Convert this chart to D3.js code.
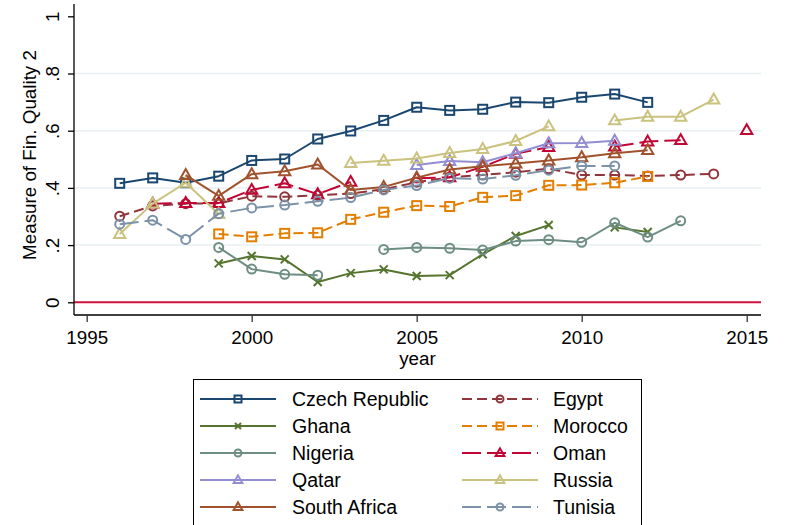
<!DOCTYPE html>
<html>
<head>
<meta charset="utf-8">
<script src="https://cdn.jsdelivr.net/npm/d3@7"></script>
<style>
  html, body { margin: 0; padding: 0; background: #fff; }
  svg { display: block; font-family: "Liberation Sans", Arial, sans-serif; }
</style>
</head>
<body>
<svg id="chart" width="787" height="525"></svg>
<script>
// ---------- data ----------
const years = [1996,1997,1998,1999,2000,2001,2002,2003,2004,2005,2006,2007,2008,2009,2010,2011,2012,2013,2014,2015];
const czech   = [.416,.435,.418,.441,.496,.501,.571,.599,.636,.682,.671,.675,.700,.698,.717,.728,.699,null,null,null];
const egypt   = [.301,.337,.345,.346,.371,.369,.374,.380,.395,.420,.437,.445,.455,.467,.445,.445,.442,.445,.449,null];
const ghana   = [null,null,null,.136,.162,.150,.071,.102,.115,.092,.095,.168,.232,.270,null,.262,.246,null,null,null];
const morocco = [null,null,null,.239,.229,.241,.243,.290,.315,.338,.335,.367,.373,.409,.410,.418,.440,null,null,null];
const nigeria = [null,null,null,.192,.116,.098,.095,null,.185,.192,.189,.183,.214,.219,.210,.278,.228,.285,null,null];
const oman    = [null,.345,.347,.347,.393,.416,.378,.421,null,.434,.437,.474,.519,.543,null,.545,.562,.567,null,.602];
const qatar   = [null,null,null,null,null,null,null,null,null,.480,.494,.490,.521,.556,.557,.565,null,null,null,null];
const russia  = [.239,.345,.418,.309,null,null,null,.487,.495,.503,.522,.536,.564,.615,null,.636,.649,.649,.709,null];
const safrica = [null,null,.445,.372,.448,.458,.482,.393,.403,.436,.464,.476,.485,.496,.507,.521,.532,null,null,null];
const tunisia = [.273,.287,.220,.310,.330,.340,.353,.366,.393,.408,.434,.431,.444,.462,.477,.477,null,null,null,null];

const seriesNames = ["Czech Republic","Egypt","Ghana","Morocco","Nigeria","Oman","Qatar","Russia","South Africa","Tunisia"];
const seriesValues = [czech, egypt, ghana, morocco, nigeria, oman, qatar, russia, safrica, tunisia];
const xTicks = [1995,2000,2005,2010,2015];
const yTicks = [0,.2,.4,.6,.8,1];
const yTickLabels = ["0",".2",".4",".6",".8","1"];
const xTitle = "year";
const yTitle = "Measure of Fin. Quality 2";

// ---------- styles ----------
const styles = [
  {color:"#1a476f", marker:"square",   dash:null},
  {color:"#90353b", marker:"circle",   dash:"10,5"},
  {color:"#55752f", marker:"x",        dash:null},
  {color:"#e37e00", marker:"square",   dash:"10,5"},
  {color:"#6e8e84", marker:"circle",   dash:null},
  {color:"#c10534", marker:"triangle", dash:"19,6"},
  {color:"#938dd2", marker:"triangle", dash:null},
  {color:"#cac27e", marker:"triangle", dash:null},
  {color:"#a0522d", marker:"triangle", dash:null},
  {color:"#7b92a8", marker:"circle",   dash:"19,6"}
];

const svg = d3.select("#chart");
svg.append("rect").attr("width",787).attr("height",525).attr("fill","#fff");

const x = d3.scaleLinear().domain([1995,2015]).range([86.7,746.7]);
const y = d3.scaleLinear().domain([0,1]).range([302.3,16.3]);
const plotLeft = 74, plotRight = 761, plotTop = 4, plotBottom = 315;

// gridlines
svg.append("g").selectAll("line").data(yTicks.filter(v => v > 0 && v < 1)).join("line")
  .attr("x1", plotLeft).attr("x2", plotRight)
  .attr("y1", d => y(d)).attr("y2", d => y(d))
  .attr("stroke", "#e9f0f3").attr("stroke-width", 1.5);

// zero line
svg.append("line").attr("x1", plotLeft).attr("x2", plotRight)
  .attr("y1", y(0)).attr("y2", y(0))
  .attr("stroke", "#d0103d").attr("stroke-width", 2);

// axes
const gx = svg.append("g").attr("transform", `translate(0,${plotBottom})`)
  .call(d3.axisBottom(x).tickValues(xTicks).tickFormat(d3.format("d")).tickSize(7));
gx.select(".domain").attr("d", `M${plotLeft},0H${plotRight}`).attr("stroke","#000").attr("stroke-width",1.3);
gx.selectAll(".tick line").attr("stroke","#333").attr("stroke-width",1.3);
gx.selectAll(".tick text").attr("font-size","18.8px").attr("fill","#000")
  .attr("font-family","Liberation Sans, Arial, sans-serif")
  .attr("y", 28.5).attr("dy", null);

const gy = svg.append("g").attr("transform", `translate(${plotLeft},0)`)
  .call(d3.axisLeft(y).tickValues(yTicks).tickFormat((d,i) => yTickLabels[i]).tickSize(6).tickPadding(0));
gy.select(".domain").attr("d", `M0,${plotTop}V${plotBottom}`).attr("stroke","#000").attr("stroke-width",1.3);
gy.selectAll(".tick line").attr("stroke","#000").attr("stroke-width",1.3);
gy.selectAll(".tick text")
  .attr("font-size","18.8px").attr("fill","#000").attr("font-family","Liberation Sans, Arial, sans-serif")
  .attr("x", null)
  .attr("text-anchor","middle")
  .attr("transform","translate(-21.5,0) rotate(-90)")
  .attr("dy","0.35em");

// axis titles
svg.append("text").attr("x", (plotLeft+plotRight)/2).attr("y", 364.5)
  .attr("text-anchor","middle").attr("font-size","18.8px").text(xTitle);
svg.append("text").attr("transform", `translate(29,155) rotate(-90)`)
  .attr("text-anchor","middle").attr("dy","0.35em").attr("font-size","18.8px").text(yTitle);

// markers
function drawMarker(g, type, cx, cy, color, s) {
  if (type === "square") {
    g.append("rect").attr("x", cx - s/2).attr("y", cy - s/2).attr("width", s).attr("height", s)
      .attr("fill","none").attr("stroke",color).attr("stroke-width",2);
  } else if (type === "circle") {
    g.append("circle").attr("cx", cx).attr("cy", cy).attr("r", s/2)
      .attr("fill","none").attr("stroke",color).attr("stroke-width",2);
  } else if (type === "triangle") {
    const w = s*1.25, h = s*1.1;
    g.append("path").attr("d", `M${cx},${cy - h*0.6}L${cx + w/2},${cy + h*0.4}L${cx - w/2},${cy + h*0.4}Z`)
      .attr("fill","none").attr("stroke",color).attr("stroke-width",2).attr("stroke-linejoin","miter");
  } else if (type === "x") {
    const r = s/2;
    g.append("path").attr("d", `M${cx-r},${cy-r}L${cx+r},${cy+r}M${cx-r},${cy+r}L${cx+r},${cy-r}`)
      .attr("fill","none").attr("stroke",color).attr("stroke-width",2);
  }
}

const line = d3.line().defined(d => d.v != null).x(d => x(d.yr)).y(d => y(d.v));

seriesValues.forEach((vals, i) => {
  const st = styles[i];
  const pts = years.map((yr, j) => ({yr, v: vals[j]}));
  const g = svg.append("g");
  g.append("path").datum(pts).attr("d", line)
    .attr("fill","none").attr("stroke", st.color).attr("stroke-width", 2)
    .attr("stroke-dasharray", st.dash).attr("stroke-linejoin","round");
  pts.filter(d => d.v != null).forEach(d => {
    drawMarker(g, st.marker, x(d.yr), y(d.v), st.color, st.marker === "x" ? 8 : 9);
  });
});

// legend
const lg = svg.append("g");
lg.append("rect").attr("x", 193.5).attr("y", 379.5).attr("width", 448).attr("height", 160)
  .attr("fill","#fff").attr("stroke","#000").attr("stroke-width",1);
const rowY = [399, 426, 453, 480, 507];
const colX = [{l1:200, l2:276, tx:292}, {l1:462, l2:538, tx:553}];
seriesNames.forEach((name, i) => {
  const st = styles[i];
  const c = colX[i % 2], ry = rowY[Math.floor(i / 2)];
  lg.append("line").attr("x1", c.l1).attr("x2", c.l2).attr("y1", ry).attr("y2", ry)
    .attr("stroke", st.color).attr("stroke-width", 2).attr("stroke-dasharray", st.dash);
  drawMarker(lg, st.marker, (c.l1 + c.l2)/2, ry, st.color, st.marker === "x" ? 6 : 7);
  lg.append("text").attr("x", c.tx).attr("y", ry).attr("dy","0.35em")
    .attr("font-size","19.5px").attr("fill","#000").text(name);
});
</script>
</body>
</html>
